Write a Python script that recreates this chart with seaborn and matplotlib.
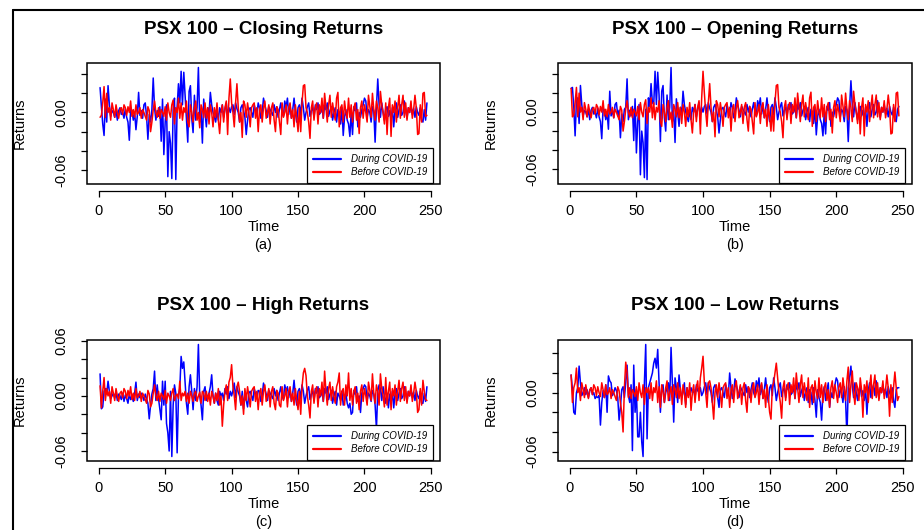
import numpy as np
import matplotlib.pyplot as plt
import seaborn as sns
from matplotlib.lines import Line2D
from matplotlib.patches import Rectangle

# daily returns, in thousandths (x 0.001), days 1..247
close_during = [
    26, 6, -12, -24, 14, -10, 28, 8, -4, 2,
    0, -5, 3, -8, 2, 5, -2, 0, -6, 4,
    -5, -10, -29, 4, 2, -8, 0, -18, -4, 21,
    -3, 2, -6, 8, 10, -4, -28, -2, -10, 3,
    36, 5, -8, 2, -4, 6, -30, 14, -44, -10,
    8, -67, -20, -32, -69, 3, 15, -70, 6, 30,
    10, 43, 8, 42, 18, -8, -31, 22, 28, -6,
    -21, 18, -8, 5, 47, -10, 2, -32, 14, 0,
    -15, 5, -2, 21, 8, 0, -5, -10, 2, -8,
    5, 0, 8, -5, 3, 10, -3, 5, 0, 6,
    8, -2, 10, 4, 0, -10, 5, 8, 2, -5,
    -23, -8, 3, 5, 0, -5, 8, 2, -3, 10,
    5, -6, 0, 15, 8, 2, -5, 6, 3, 0,
    -3, 8, 0, 6, -5, 3, 10, 0, -4, 12,
    5, 15, -2, 8, -6, 3, 15, 0, -10, 5,
    8, -3, 15, 5, -8, 0, 6, 10, -4, 2,
    5, -5, 8, 3, 10, -2, 0, 6, -6, 8,
    3, 10, -4, 2, 6, -8, 0, 5, -10, 3,
    0, -12, 5, -24, -5, 3, -8, -12, -25, 0,
    -23, 6, 2, 10, -15, 0, -5, 3, 8, 15,
    12, -5, 3, 0, -10, 6, 2, -31, 5, 35,
    8, -5, 10, 0, -8, 3, 6, -4, 2, -8,
    5, -15, 2, 10, -5, 3, 8, -3, 0, 12,
    3, -6, 5, 0, 8, -2, 4, -5, 6, 0,
    -3, 5, -8, -10, 3, -8, 10,
]
close_before = [
    -5, -3, 10, 27, -5, 20, 0, 5, -8, 10,
    3, -5, 8, 0, -6, 3, 5, -2, 8, 5,
    -3, 6, 0, 12, -4, 3, -5, 8, -2, 0,
    5, -6, 3, 0, -4, -8, 6, 2, -20, -10,
    3, 12, 0, -5, 5, -6, 3, 0, -4, 6,
    -8, 10, 0, -5, 8, 13, -12, 5, 0, 15,
    -6, 10, -8, 5, 0, 12, -10, -15, 8, 0,
    -10, 5, 12, -8, 0, -16, 8, 3, -5, 10,
    -6, 5, -12, 8, 0, -15, 5, -5, 10, -8,
    -22, 0, 8, -10, 5, 12, -23, 15, 35, 10,
    0, -15, 10, 30, 5, -10, 0, -26, 12, 8,
    -5, 10, 0, -15, 5, 8, 10, -6, 5, -20,
    3, 8, -10, 5, 12, -6, 0, 8, -12, 5,
    10, -8, -20, 6, 3, -10, -23, 10, -5, 0,
    8, -12, 5, 10, -6, 3, -15, 8, -5, -20,
    5, -20, 10, 28, 29, 5, 0, -10, -27, 5,
    12, -8, 5, 10, -12, 8, 0, 15, -6, 20,
    5, -10, 8, 18, -5, 10, 0, -8, 15, 21,
    -15, 5, 8, -10, 12, 0, -6, 15, -5, 8,
    -10, 5, 10, -8, 3, -22, 5, 12, -6, 8,
    0, -10, 18, 6, -5, 20, 3, -8, 12, 5,
    -10, 22, 8, 0, -12, 10, -23, 5, 15, -25,
    8, 0, 12, -10, 5, 18, -6, 8, 18, -5,
    10, -8, 5, 0, 12, -6, 3, 18, 5, -23,
    -22, 8, -10, 20, 21, -4, -3,
]
open_during = [
    25, 26, 5, -25, 12, 15, -12, 28, 8, -4,
    2, 0, -5, 3, -8, 2, 5, -2, 0, -6,
    4, -5, -10, -28, 4, 2, -8, 0, -18, 22,
    -4, 2, -6, 8, 10, -4, 2, -27, -2, -10,
    3, 5, 35, -8, 2, -4, 6, -30, 14, -43,
    -10, 8, -66, -20, -32, -69, 3, -71, 15, 6,
    30, 10, 8, 43, 8, 42, 18, -31, 22, 28,
    -6, -20, 18, -8, 5, 47, -10, 2, -32, 14,
    0, -15, 5, -2, 22, 8, 0, -5, -10, 2,
    -8, 5, 0, 8, -5, 3, 10, -3, 5, 0,
    6, 8, -2, 10, 4, 0, -10, 5, 8, 2,
    -5, -22, -8, 3, 5, 0, -5, 8, 2, -3,
    10, 5, -6, 0, 15, 8, 2, -5, 6, 3,
    0, -3, 8, 0, 6, -5, 3, 10, 0, -4,
    12, 5, 15, -2, 8, -6, 3, 15, 0, -10,
    5, 8, -3, 15, 5, -8, 0, 6, 10, -4,
    2, 5, -5, 8, 3, 10, -2, 0, 6, -6,
    8, 3, 10, -4, 2, 6, -8, 0, 5, -10,
    3, 0, -12, 5, -24, -5, 3, -8, -12, -25,
    0, -23, 6, 2, 10, -15, 0, -5, 3, 8,
    15, 12, -5, 3, 0, -10, 6, 2, -31, 5,
    33, 8, -5, 10, 0, -8, 3, 6, -4, 2,
    -8, 5, -15, 2, 10, -5, 3, 8, -3, 0,
    12, 3, -6, 5, 0, 8, -2, 4, -5, 6,
    0, -3, 5, -8, -10, 3, 6,
]
open_before = [
    25, -5, -3, 10, 26, -5, 20, 0, 5, -8,
    10, 3, -5, 8, 0, -6, 3, 5, -2, 8,
    5, -3, 6, 0, 12, -4, 3, -5, 8, -2,
    0, 5, -6, 3, 0, -4, -8, 6, 2, -20,
    -10, 3, 12, 0, -5, 5, -6, 3, 0, -4,
    6, -8, 10, 0, -5, 8, 13, -12, 5, 0,
    15, -6, 10, -8, 5, 0, 12, -10, -15, 8,
    0, -10, 5, 12, -8, 0, -16, 8, 3, -5,
    10, -6, 5, -12, 8, 0, -15, 5, -5, 10,
    -8, -22, 0, 8, -10, 5, 12, -23, 15, 43,
    20, 0, -15, 10, 30, 5, -10, 0, -26, 12,
    8, -5, 10, 0, -15, 5, 8, 10, -6, 5,
    -20, 3, 8, -10, 5, 12, -6, 0, 8, -12,
    5, 10, -8, -20, 6, 3, -10, -23, 10, -5,
    0, 8, -12, 5, 10, -6, 3, -15, 8, -5,
    -20, 5, -20, 10, 28, 29, 5, 0, -10, -27,
    5, 12, -8, 5, 10, -12, 8, 0, 15, -6,
    20, 5, -10, 8, 18, -5, 10, 0, -8, 15,
    21, -15, 5, 8, -10, 12, 0, -6, 15, -5,
    8, -10, 5, 10, -8, 3, -22, 5, 12, -6,
    8, 0, -10, 18, 6, -5, 20, 3, -8, 12,
    5, -10, 22, 8, 0, -12, 10, -23, 5, 15,
    -25, 8, 0, 12, -10, 5, 18, -6, 8, 18,
    -5, 10, -8, 5, 0, 12, -6, 3, 18, 5,
    -23, -22, 8, -10, 20, 21, -4,
]
high_during = [
    24, -14, -12, 5, 8, 2, 16, 5, -3, 0,
    3, -2, 4, -5, 2, 0, -4, 3, -6, 1,
    -3, -8, 2, -4, 0, -6, 3, 15, -5, 2,
    -2, 3, 0, -5, 2, -3, -8, -25, -10, 2,
    8, 27, -5, 12, -3, -15, -26, 16, -10, 16,
    -30, -40, -60, 5, -66, -10, 12, 3, -62, 0,
    8, 43, 30, 37, 15, -8, -20, 10, 23, 5,
    -15, 8, -5, 10, 56, 0, -10, -26, 5, 10,
    -5, 0, 3, 10, 23, 0, -8, 3, -5, -10,
    5, 0, 3, -5, 8, 2, 10, -3, 5, 0,
    6, 14, -2, 10, 4, 0, -10, 5, -14, 2,
    -5, -12, 3, 5, 0, -5, 8, 2, -3, 6,
    5, -6, 0, 14, 8, 2, -5, 6, 3, 0,
    -3, 8, 0, 6, -5, 3, 10, 0, -4, 12,
    5, 10, -2, 8, -6, 3, 17, 0, -10, 5,
    8, -3, 12, 5, -8, 0, 6, 10, -4, 2,
    5, -5, 8, 3, 10, -2, 0, 6, -6, 8,
    3, 10, -4, 2, 6, -8, 0, 5, -10, 3,
    0, -5, 5, -10, -5, 3, -8, -13, -8, -20,
    -18, 6, 2, 10, -6, 0, -18, 3, 8, 12,
    10, -5, 3, 0, -6, 6, 2, -10, -36, 5,
    12, 8, -5, 10, 0, -8, 3, -13, 2, -8,
    5, -13, 2, 8, -5, 3, 8, -3, 0, 10,
    3, -6, 5, 0, 8, -2, 4, -5, 6, 0,
    -3, 5, -8, -8, 3, -6, 10,
]
high_before = [
    11, -13, 5, 20, -5, 8, 0, 5, -8, 10,
    3, -5, 8, 0, -6, 3, 5, -2, 8, 5,
    -3, 6, 0, 10, -4, 3, -5, 8, -2, 0,
    5, -6, 3, 0, -4, -8, 6, 2, -12, -8,
    3, 12, 0, -5, 5, -6, 3, 0, -4, 6,
    -8, 3, 0, -5, 3, 8, -5, 0, 2, -3,
    16, -5, 3, 0, 5, -6, 3, -8, 5, 0,
    -6, 3, 5, -6, 0, 4, -8, 5, 3, -5,
    5, -6, 3, -10, 5, 0, -8, 3, -5, 8,
    -10, 0, -33, -10, 5, 12, -5, 15, 20, 34,
    10, 0, -15, 10, 15, 5, -10, 0, -20, 8,
    -5, 10, 0, -12, 5, 8, 10, -6, 5, -15,
    3, 8, -10, 5, 12, -6, 0, 8, -12, 5,
    10, -8, -15, 6, 3, -10, -12, 10, -5, 0,
    8, -12, 5, 10, -6, 3, -10, 8, -5, -15,
    5, -20, 10, 25, 30, 22, 0, -10, -24, 5,
    12, -8, 5, 10, -12, 8, 0, 15, -6, 27,
    5, -10, 8, 15, -5, 10, 0, -8, 10, 15,
    25, -10, 5, 8, -10, 12, 0, 25, -5, 8,
    -10, 5, 10, -8, 3, -15, 5, 12, -6, 8,
    0, -10, 15, 6, -5, 24, 3, -8, 12, 5,
    -10, 24, 8, 0, -12, 20, -10, 5, 15, -15,
    8, 0, 12, -10, 5, 17, -6, 8, 15, -5,
    10, -8, 5, 0, 12, -6, 3, 15, 5, -18,
    -15, 8, -10, 17, 5, -4, -5,
]
low_during = [
    18, 3, -20, -22, 0, 5, 27, 10, -3, 0,
    5, -2, 3, -5, 2, 5, -2, 0, -6, -4,
    -5, -3, -33, -10, 2, -5, 8, -20, 17, 12,
    10, -3, 0, 5, 2, -5, -28, -15, 3, 6,
    -5, 10, 28, -3, -10, 8, -59, 28, -20, 3,
    -45, -45, -20, -50, -65, 10, 49, -47, 5, 10,
    15, 20, 30, 35, 25, 44, 10, -20, 5, 8,
    -10, 0, 5, 10, -8, 46, 10, -30, 15, 5,
    -10, 18, 3, -5, 0, 10, -12, 5, -3, 0,
    5, 0, 3, -5, 8, 2, 0, 5, -3, 0,
    6, 10, -2, 10, 4, 0, -10, 5, 8, 2,
    -5, -15, 3, 5, 0, -5, 8, 2, -3, 20,
    5, -6, 0, 14, 8, 2, -5, 6, 3, 0,
    -3, 8, 0, 6, -5, 3, 10, 0, -4, 12,
    5, 15, -2, 8, -6, 3, 15, 0, -10, 5,
    8, -3, 15, 5, -8, 0, 6, 10, -4, 2,
    5, -5, 8, 3, 10, -2, 0, 6, -6, 8,
    3, 10, -4, 2, 6, -8, 0, 5, -10, 3,
    0, -12, 5, -8, -25, 3, -5, -10, -28, 0,
    6, -8, 2, 10, -15, 0, -5, 3, 8, 15,
    12, -5, 3, 0, -10, 6, -8, -45, 5, 15,
    27, 8, -5, 10, 0, -8, 3, 6, -4, 2,
    -8, 5, -22, 2, 10, -5, 3, 8, -3, 12,
    3, -6, 5, 0, 8, -2, 4, -5, 6, 0,
    -3, 5, -8, -15, 3, 5, 5,
]
low_before = [
    18, -10, 5, 10, 25, 0, 5, -8, 10, 3,
    -5, 8, 0, -6, 3, 5, -2, 8, 5, -3,
    6, 0, -4, 10, 3, -5, 8, -2, 0, 5,
    -6, 3, 0, -4, -8, 6, 2, -10, -20, -40,
    5, 31, 20, -5, 5, -6, 3, 0, -4, 6,
    -8, 10, 0, -5, 8, -12, 5, 0, 5, -6,
    10, -8, 5, 0, 12, -10, 6, -15, 8, 0,
    -10, 5, 12, -8, 0, 6, -12, 8, 3, -5,
    10, -6, 5, -12, 8, 0, -15, 5, -5, 10,
    -18, 0, 8, -10, 5, 12, -8, 15, 25, 37,
    10, 0, -15, 10, 12, 5, -10, -27, 0, 8,
    -5, 10, 0, -15, 5, 8, 10, -6, 5, -15,
    3, 8, -10, 5, 12, -6, 0, 8, -12, 5,
    10, -8, -20, 6, 3, -10, 5, 10, -5, 0,
    8, -12, 5, 10, -6, 3, -15, 8, -5, -20,
    -27, 5, 10, 20, 30, 15, 0, -10, -26, 5,
    12, -8, 5, 10, -12, 8, 0, 15, -6, 20,
    5, -10, 8, 18, -5, 10, 0, -8, 15, -15,
    5, 8, -10, 12, 0, -6, 15, -5, 8, -10,
    5, 10, -8, 3, -15, 5, 12, -6, 8, 0,
    -10, 6, 10, -5, 15, 3, -8, 12, 26, -10,
    8, 22, 0, -12, 10, 5, -8, 15, 3, -25,
    8, 0, 12, -10, 5, 18, -6, 8, 18, -5,
    10, -8, 5, 0, 12, -6, 3, 18, 5, -24,
    8, -10, 5, 21, 5, -8, -4,
]

titles = ["PSX 100 \u2013 Closing Returns", "PSX 100 \u2013 Opening Returns",
          "PSX 100 \u2013 High Returns", "PSX 100 \u2013 Low Returns"]
tags = ["(a)", "(b)", "(c)", "(d)"]
series = [(close_during, close_before), (open_during, open_before),
          (high_during, high_before), (low_during, low_before)]

sns.set_style("white")
plt.rcParams["font.family"] = ["Liberation Sans", "DejaVu Sans"]
plt.rcParams["text.color"] = "black"
plt.rcParams["axes.labelcolor"] = "black"

W, H = 924, 530
# plot boxes in pixels: left, top, right, bottom
boxes = [(87, 63, 440, 184), (558, 63, 912, 184),
         (87, 340, 440, 461), (558, 340, 912, 461)]

fig = plt.figure(figsize=(W / 100, H / 100), dpi=100)

for title, tag, (during, before), (l, t, r, b) in zip(titles, tags, series, boxes):
    ax = fig.add_axes([l / W, 1 - b / H, (r - l) / W, (b - t) / H])
    d = np.array(during) / 1000
    bf = np.array(before) / 1000
    sns.lineplot(x=np.arange(1, len(d) + 1), y=d, ax=ax, color="#0000FF", lw=1.1)
    sns.lineplot(x=np.arange(1, len(bf) + 1), y=bf, ax=ax, color="#FF0000", lw=1.1)
    ax.margins(x=0.04, y=0.04)
    ax.autoscale_view()
    xlim = ax.get_xlim()
    ylim = ax.get_ylim()

    ax.set_xticks([0, 50, 100, 150, 200, 250])
    ax.set_yticks([-0.06, -0.04, -0.02, 0.0, 0.02, 0.04, 0.06])
    ax.set_yticklabels(["-0.06", "", "", "0.00", "", "", "0.06"])
    ax.set_xlim(xlim)
    ax.set_ylim(ylim)
    ax.set_xlabel("")
    ax.set_ylabel("")
    ax.tick_params(axis="both", direction="out", length=4.5, width=0.9,
                   colors="black", labelsize=10.5, bottom=True, left=True)
    ax.tick_params(axis="x", pad=5)
    ax.tick_params(axis="y", pad=9, labelrotation=90)
    for lbl in ax.get_yticklabels():
        lbl.set_va("center")

    for side in ["top", "right", "left"]:
        ax.spines[side].set_visible(False)
    ax.spines["bottom"].set_position(("outward", 5))
    ax.spines["bottom"].set_bounds(0, 250)
    ax.spines["bottom"].set_linewidth(0.9)
    ax.spines["bottom"].set_color("black")
    ax.add_patch(Rectangle((0, 0), 1, 1, transform=ax.transAxes, fill=False,
                           edgecolor="black", lw=1.1, clip_on=False, zorder=10))

    handles = [Line2D([], [], color="#0000FF", lw=1.6),
               Line2D([], [], color="#FF0000", lw=1.6)]
    leg = ax.legend(handles, ["During COVID-19", "Before COVID-19"],
                    loc="lower right", bbox_to_anchor=(1 - 7 / (r - l), 1 / (b - t)),
                    prop={"style": "italic", "size": 7}, frameon=True,
                    fancybox=False, edgecolor="black", framealpha=1,
                    handlelength=2.9, handletextpad=1.0, borderpad=0.6,
                    labelspacing=0.3, borderaxespad=0, labelcolor="black")
    leg.get_frame().set_linewidth(0.9)
    leg.set_zorder(11)

    cx = (l + r) / 2 / W
    fig.text(cx, 1 - (t - 34) / H, title, ha="center", va="center",
             fontsize=13.5, fontweight="bold")
    fig.text(cx, 1 - (b + 43) / H, "Time", ha="center", va="center", fontsize=10.5)
    fig.text(cx, 1 - (b + 61) / H, tag, ha="center", va="center", fontsize=10.5)
    fig.text((l - 67) / W, 1 - (t + b) / 2 / H, "Returns", ha="center", va="center",
             rotation=90, fontsize=10.5)

# outer frame (top and left edges)
fig.add_artist(Line2D([13 / W, 1], [1 - 10 / H, 1 - 10 / H],
                      transform=fig.transFigure, color="black", lw=1.5))
fig.add_artist(Line2D([13 / W, 13 / W], [0, 1 - 10 / H],
                      transform=fig.transFigure, color="black", lw=1.5))

fig.savefig("out.png", dpi=100)
